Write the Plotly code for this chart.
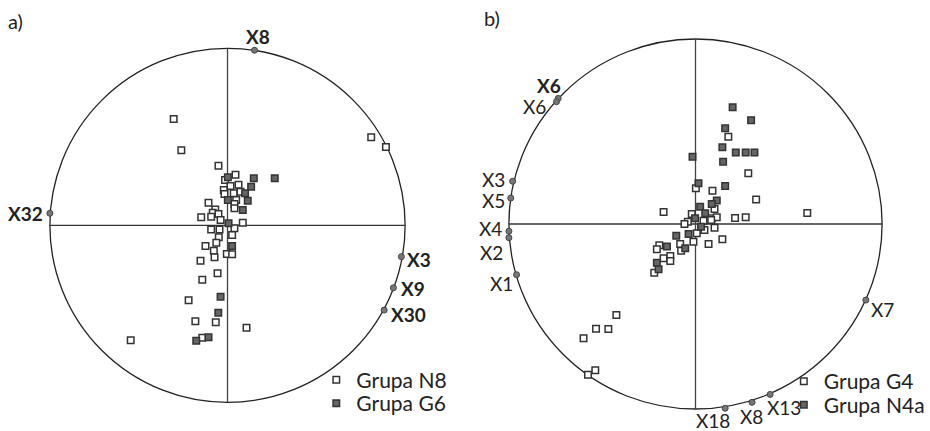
import plotly.graph_objects as go

# --- a) Grupa N8 (puste) / Grupa G6 (pełne) ---
a_n8_x = [-0.303, -0.260, 0.809, 0.892, -0.051, 0.045, -0.014, 0.062, 0.017, -0.021, -0.017,
          0.035, 0.073, 0.049, 0.039, 0.039, -0.107, -0.069, -0.083, -0.051, -0.148, -0.092,
          -0.039, -0.092, -0.045, 0.039, 0.086, -0.049, -0.063, -0.124, -0.077, -0.073, -0.004,
          0.026, -0.152, -0.056, -0.142, -0.219, -0.181, -0.066, 0.107, -0.142, -0.545, 0.026]
a_n8_y = [0.601, 0.424, 0.497, 0.442, 0.337, 0.286, 0.256, 0.229, 0.222, 0.199, 0.177,
          0.181, 0.190, 0.143, 0.120, 0.096, 0.128, 0.090, 0.071, 0.064, 0.045, 0.049,
          0.030, -0.023, -0.023, -0.017, 0.015, -0.068, -0.098, -0.117, -0.144, -0.181, -0.162,
          -0.164, -0.200, -0.271, -0.307, -0.423, -0.542, -0.548, -0.579, -0.635, -0.650, -0.055]
a_g6_x = [0.002, 0.148, 0.266, 0.133, 0.099, 0.002, 0.114, 0.086, 0.006, 0.026, -0.039,
          -0.052, -0.107, -0.176]
a_g6_y = [0.271, 0.266, 0.266, 0.218, 0.181, 0.143, 0.139, 0.086, 0.011, -0.117, -0.403,
          -0.494, -0.633, -0.652]
a_var_names = ["X8", "X32", "X3", "X9", "X30"]
a_var_x = [0.152, -1.0, 0.979, 0.934, 0.882]
a_var_y = [0.989, 0.068, -0.177, -0.353, -0.479]

# --- b) Grupa G4 (puste) / Grupa N4a (pełne) ---
b_g4_x = [0.176, 0.283, 0.002, 0.091, 0.325, 0.599, -0.171, 0.212, 0.269, 0.144, 0.070,
          0.102, 0.087, 0.114, -0.020, -0.041, -0.059, 0.043, 0.084, 0.102, 0.048, 0.007,
          -0.011, -0.082, -0.077, -0.194, -0.207, -0.171, -0.135, -0.135, -0.221, -0.424,
          -0.533, -0.467, -0.600, -0.537, -0.576]
b_g4_y = [0.472, 0.274, 0.193, 0.180, 0.133, 0.059, 0.065, 0.032, 0.036, -0.083, -0.108,
          0.081, 0.031, 0.036, 0.054, 0.012, 0.0, 0.018, 0.022, -0.020, -0.032, -0.050,
          -0.096, -0.108, -0.144, -0.115, -0.137, -0.185, -0.173, -0.200, -0.263, -0.492,
          -0.566, -0.568, -0.618, -0.791, -0.815]
b_n4a_x = [0.199, 0.298, 0.159, 0.144, 0.216, 0.269, 0.316, -0.016, 0.148, 0.159, 0.016,
           0.114, 0.087, 0.025, 0.052, -0.002, 0.030, -0.037, -0.103, -0.055, -0.153,
           -0.207, -0.198]
b_n4a_y = [0.631, 0.561, 0.517, 0.415, 0.386, 0.386, 0.386, 0.364, 0.337, 0.205, 0.220,
           0.127, 0.108, 0.093, 0.058, 0.031, -0.015, -0.054, -0.063, -0.131, -0.122,
           -0.209, -0.245]
b_var_names = ["X6", "X6", "X3", "X5", "X4", "X2", "X1", "X7", "X18", "X8", "X13"]
b_var_x = [-0.736, -0.745, -0.980, -0.990, -1.0, -1.0, -0.959, 0.913, 0.159, 0.303, 0.400]
b_var_y = [0.679, 0.661, 0.231, 0.140, -0.039, -0.074, -0.274, -0.411, -0.996, -0.964, -0.921]

# przesunięcia etykiet (px) i pogrubienie
a_shift = [(3, 14), (-24, 0), (18, -3), (20, -1), (24, -4)]
b_shift = [(-9, 13), (-22, -5), (-19, 2), (-17, -2), (-18, 3), (-17, -15), (-15, -9),
           (17, -9), (-12, -12), (-1, -14), (14, -13)]
b_bold = [True] + [False] * 10

FONT = "Lato"
EDGE = "#333333"
FILL = "#666666"
W, H = 930, 431

fig = go.Figure()

def add_points(x, y, xa, ya, name, fill, legend):
    fig.add_trace(go.Scatter(
        x=x, y=y, xaxis=xa, yaxis=ya, mode="markers", name=name, legend=legend,
        marker=dict(symbol="square", size=6.5, color=fill, line=dict(color=EDGE, width=1.5)),
        hoverinfo="skip"))

def add_vars(x, y, xa, ya):
    fig.add_trace(go.Scatter(
        x=x, y=y, xaxis=xa, yaxis=ya, mode="markers", showlegend=False,
        marker=dict(symbol="circle", size=6, color="#777777", line=dict(color="#444444", width=1)),
        hoverinfo="skip"))

add_points(a_n8_x, a_n8_y, "x", "y", "Grupa N8", "white", "legend")
add_points(a_g6_x, a_g6_y, "x", "y", "Grupa G6", FILL, "legend2")
add_vars(a_var_x, a_var_y, "x", "y")
add_points(b_g4_x, b_g4_y, "x2", "y2", "Grupa G4", "white", "legend3")
add_points(b_n4a_x, b_n4a_y, "x2", "y2", "Grupa N4a", FILL, "legend4")
add_vars(b_var_x, b_var_y, "x2", "y2")

# okręgi i osie
for xr, yr in [("x", "y"), ("x2", "y2")]:
    fig.add_shape(type="circle", xref=xr, yref=yr, x0=-1, x1=1, y0=-1, y1=1,
                  line=dict(color="#222222", width=1.3), layer="below")
    fig.add_shape(type="line", xref=xr, yref=yr, x0=-1, x1=1, y0=0, y1=0,
                  line=dict(color="#333333", width=1.3), layer="below")
    fig.add_shape(type="line", xref=xr, yref=yr, x0=0, x1=0, y0=-1, y1=1,
                  line=dict(color="#444444", width=1.3), layer="below")

for name, x, y, (dx, dy) in zip(a_var_names, a_var_x, a_var_y, a_shift):
    fig.add_annotation(x=x, y=y, xref="x", yref="y", text=name, showarrow=False,
                       xshift=dx, yshift=dy,
                       font=dict(family=FONT, size=19, color="#222222", weight="bold"))
for name, x, y, (dx, dy), bold in zip(b_var_names, b_var_x, b_var_y, b_shift, b_bold):
    fig.add_annotation(x=x, y=y, xref="x2", yref="y2", text=name, showarrow=False,
                       xshift=dx, yshift=dy,
                       font=dict(family=FONT, size=19, color="#222222",
                                 weight="bold" if bold else "normal"))

for txt, px, py in [("a)", 16, 21), ("b)", 493, 18)]:
    fig.add_annotation(x=px / W, y=1 - py / H, xref="paper", yref="paper", text=txt,
                       xanchor="center", yanchor="middle", showarrow=False,
                       font=dict(family=FONT, size=20, color="#222222"))

axis = dict(visible=False, fixedrange=True)

def leg(px, py):
    return dict(font=dict(family=FONT, size=21, color="#222222"), bgcolor="rgba(0,0,0,0)",
                itemwidth=30, xanchor="left", yanchor="top", x=px / W, y=1 - py / H)

fig.update_layout(
    width=W, height=H, autosize=False,
    margin=dict(l=0, r=0, t=0, b=0),
    paper_bgcolor="white", plot_bgcolor="white",
    xaxis=dict(axis, domain=[0, 0.5], range=[-1.2809, 1.3315]),
    yaxis=dict(axis, domain=[0, 1], range=[-1.1621, 1.2729]),
    xaxis2=dict(axis, domain=[0.5, 1], range=[-1.2406, 1.2460]),
    yaxis2=dict(axis, domain=[0, 1], range=[-1.1189, 1.2108]),
    legend=leg(317, 359.5),
    legend2=leg(317, 383),
    legend3=leg(785.5, 361),
    legend4=leg(785.5, 384.5),
)

# bez domyślnego marginesu strony i bez paska narzędzi
fig.write_html("out.html", config={"displayModeBar": False},
               post_script="document.body.style.margin='0';")
